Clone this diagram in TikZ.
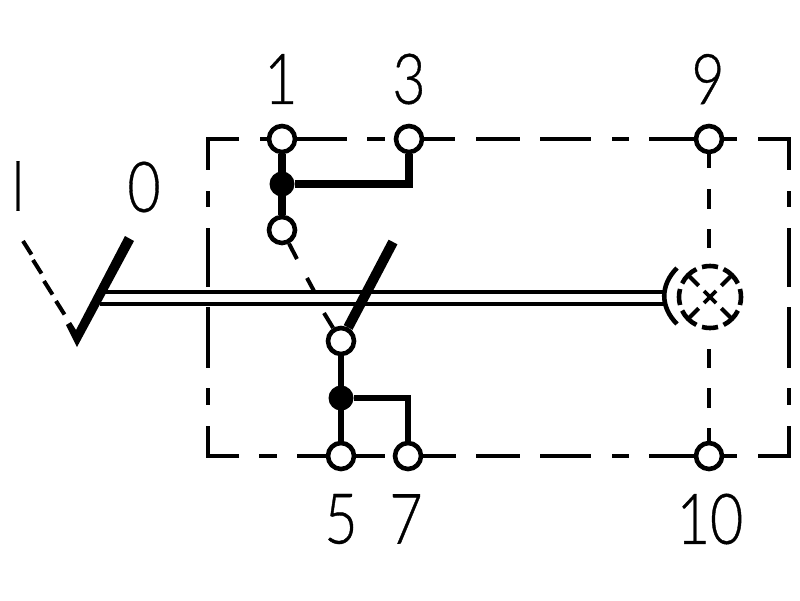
\documentclass[tikz,border=0pt]{standalone}
\usepackage{fontspec}
\setmainfont[FakeBold=0.6]{Lato Light}
\usetikzlibrary{backgrounds,calc}
\tikzset{
  term/.style={circle,draw=black,fill=white,line width=4.6pt,minimum size=26pt,inner sep=0pt},
  junction/.style={circle,fill=black,draw=none,minimum size=25pt,inner sep=0pt},
  pin/.style={inner sep=0pt,font=\fontsize{70}{70}\selectfont,xscale=.82,transform shape},
  bord/.style={line width=4pt,line cap=butt,line join=miter},
  wire/.style={line width=7.2pt,line join=miter},
  thin wire/.style={line width=4pt},
  lever/.style={line width=10pt},
  rail/.style={line width=4pt},
  lampseg/.style={line width=4.6pt},
}
\begin{document}
\begin{tikzpicture}[x=1pt,y=-1pt]
\useasboundingbox (0,0) rectangle (800,600);
% terminals
\node[term] (t1) at (282,139) {};
\node[term] (t3) at (409,139) {};
\node[term] (t9) at (709,139) {};
\node[term] (t5) at (341,456) {};
\node[term] (t7) at (408,456) {};
\node[term] (t10) at (709,456) {};
\node[term] (c1) at (282,230) {};
\node[term] (c2) at (341,341) {};
\node[junction] (j1) at (282,184) {};
\node[junction] (j2) at (341,398) {};
% labels
\node[pin] (l1) at (281,79) {1};
\node[pin] (l3) at (409,79) {3};
\node[pin] (l9) at (708,79) {9};
\node[pin] (l0) at (144,187) {0};
\node[pin] (lI) at (18,186) {I};
\node[pin] (l5) at (341,519) {5};
\node[pin] (l7) at (406,519) {7};
\node[pin] (l10) at (710,519) {10};
\coordinate (leverTop) at (393,242);
\coordinate (railA) at (105,292);
\coordinate (railB) at (664,292);
\coordinate (railC) at (100,304);
\coordinate (railD) at (664,304);
\coordinate (lamp) at (710,297);
\begin{scope}[on background layer]
  % border
  \draw[bord] (239,139) -- (208,139) -- (208,170);
  \draw[bord] (758,139) -- (789,139) -- (789,170);
  \draw[bord] (239,456) -- (208,456) -- (208,426);
  \draw[bord] (758,456) -- (789,456) -- (789,426);
  \foreach \a/\b in {260/347,367/385,409/455,476/520,540/591,612/629,649/737}
    \draw[bord] (\a,139) -- (\b,139);
  \foreach \a/\b in {259/277,297/385,408/456,476/520,540/591,612/629,649/737}
    \draw[bord] (\a,456) -- (\b,456);
  \foreach \a/\b in {191/207,228/287,307/368,388/405} {
    \draw[bord] (208,\a) -- (208,\b);
    \draw[bord] (789,\a) -- (789,\b);
  }
  \foreach \a/\b in {139/168,189/209,229/248,349/368,388/408,428/456}
    \draw[bord] (709,\a) -- (709,\b);
  % wires
  \draw[wire] (t1) -- (c1);
  \draw[wire] (j1) -| (t3);
  \draw[line width=6.6pt] (c2) -- (t5);
  \draw[line width=6.6pt,line join=miter] (j2) -| (t7);
  % rails
  \draw[rail] (railA) -- (railB);
  \draw[rail] (railC) -- (railD);
  % contact dashed
  \draw[thin wire] (c1) -- (297,259);
  \draw[thin wire] (307,278) -- (314,291);
  \draw[thin wire] (324,313) -- (c2);
  % levers
  \draw[lever] (c2) -- (leverTop);
  \fill (125,236) -- (134,241) -- (77,347) -- (66,325) -- (71,322) -- (76,330) -- cycle;
  \foreach \p/\q in {23/241,33/260,44/281,56/301}
    \draw[thin wire] (\p,\q) -- ++(8.5,13.5);
  % lamp
  \draw[lampseg] (677,268) .. controls (660,285) and (660,307) .. (677,324);
  \foreach \s/\e in {75/105,165/195,255/285,-15/15,26/64,116/154,206/244,296/334}
    \draw[lampseg] ($(lamp)+(\s:31)$) arc[start angle=\s,end angle=\e,radius=31];
  \foreach \an in {45,135,225,315}
    \draw[thin wire] ($(lamp)+(\an:16)$) -- ($(lamp)+(\an:30)$);
  \draw[line width=3.8pt] (704,291) -- (716,303) (704,303) -- (716,291);
\end{scope}
\end{tikzpicture}
\end{document}
